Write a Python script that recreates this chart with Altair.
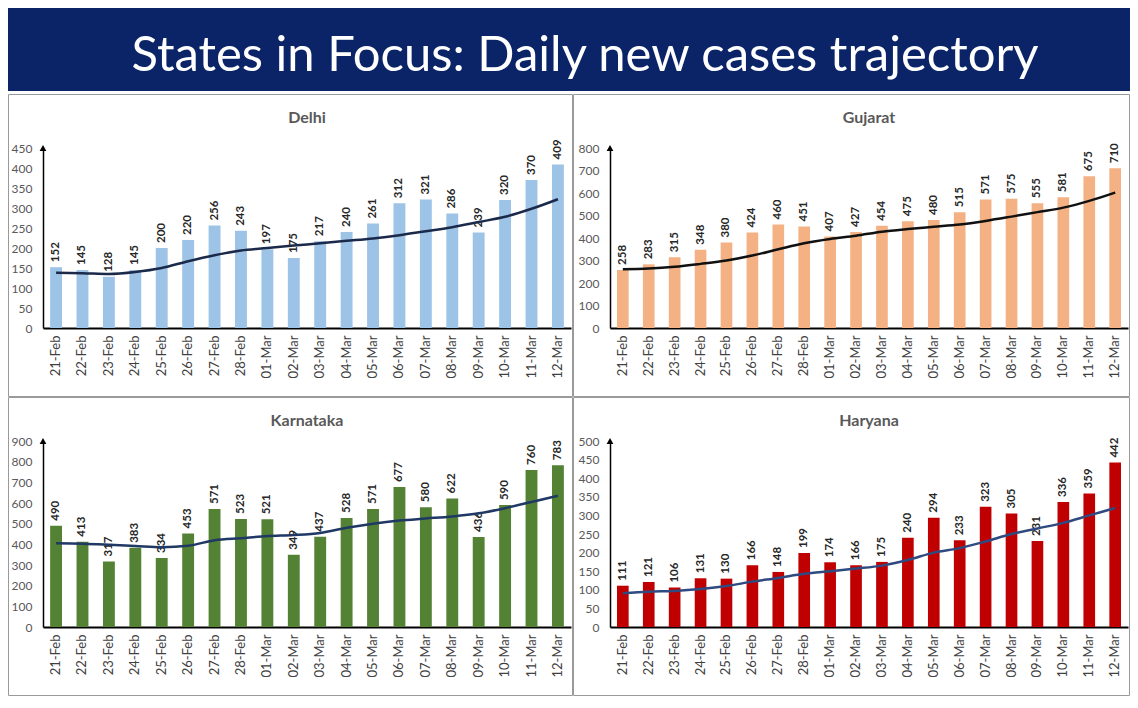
import altair as alt
import pandas as pd

# ---------------- data ----------------
dates = ["21-Feb", "22-Feb", "23-Feb", "24-Feb", "25-Feb", "26-Feb", "27-Feb", "28-Feb",
         "01-Mar", "02-Mar", "03-Mar", "04-Mar", "05-Mar", "06-Mar", "07-Mar", "08-Mar",
         "09-Mar", "10-Mar", "11-Mar", "12-Mar"]

delhi = [152, 145, 128, 145, 200, 220, 256, 243, 197, 175, 217, 240, 261, 312, 321, 286, 239, 320, 370, 409]
delhi_trend = [138, 137, 135, 140, 150, 167, 182, 194, 200, 206, 212, 218, 224, 232, 242, 252, 265, 278, 298, 322]

gujarat = [258, 283, 315, 348, 380, 424, 460, 451, 407, 427, 454, 475, 480, 515, 571, 575, 555, 581, 675, 710]
gujarat_trend = [261, 264, 272, 285, 300, 322, 350, 377, 396, 410, 428, 440, 450, 460, 476, 495, 515, 535, 565, 602]

karnataka = [490, 413, 317, 383, 334, 453, 571, 523, 521, 349, 437, 528, 571, 677, 580, 622, 436, 590, 760, 783]
karnataka_trend = [405, 403, 398, 392, 386, 393, 420, 430, 440, 445, 455, 480, 500, 515, 525, 535, 550, 575, 605, 635]

haryana = [111, 121, 106, 131, 130, 166, 148, 199, 174, 166, 175, 240, 294, 233, 323, 305, 231, 336, 359, 442]
haryana_trend = [91, 95, 97, 102, 110, 122, 132, 143, 150, 157, 165, 180, 200, 212, 230, 250, 265, 280, 300, 320]

main_title = "States in Focus: Daily new cases trajectory"
FONT = "Lato"


def panel(name, values, trend, color, line_color, ymax, step,
          width, height, left_pad, top_pad, bottom_pad=69, right_pad=2):
    df = pd.DataFrame({"date": dates, "cases": values, "trend": trend})

    xenc = alt.X("date:N", sort=dates,
                 scale=alt.Scale(paddingInner=0.55, paddingOuter=0.27),
                 axis=alt.Axis(title=None, labelAngle=-90, ticks=False,
                               domainColor="black", domainWidth=2,
                               labelFont=FONT, labelFontSize=13,
                               labelColor="#404040", labelPadding=7))

    def yenc(field):
        return alt.Y(field, scale=alt.Scale(domain=[0, ymax], nice=False),
                     axis=alt.Axis(title=None, values=list(range(0, ymax + 1, step)),
                                   ticks=False, grid=False, domainColor="black",
                                   domainWidth=1.5, labelFont=FONT, labelFontSize=12,
                                   labelColor="#595959", labelPadding=11))

    base = alt.Chart(df)
    bars = base.mark_bar(color=color).encode(x=xenc, y=yenc("cases:Q"))
    labels = base.mark_text(angle=270, align="left", baseline="middle", dx=5,
                            font=FONT, fontWeight="bold", fontSize=11.5,
                            color="#262626").encode(x=xenc, y=yenc("cases:Q"),
                                                     text="cases:Q")
    line = base.mark_line(color=line_color, strokeWidth=2.5,
                          interpolate="monotone").encode(x=xenc, y=yenc("trend:Q"))

    top_df = pd.DataFrame({"top": [ymax]})
    arrow = alt.Chart(top_df).mark_point(shape="triangle-up", filled=True, size=45,
                                         color="black", opacity=1).encode(
        x=alt.value(0), y=yenc("top:Q"))

    name_df = pd.DataFrame({"name": [name]})
    ttl = alt.Chart(name_df).mark_text(font=FONT, fontWeight="bold", fontSize=16,
                                       color="#595959", baseline="middle").encode(
        x=alt.value(width / 2), y=alt.value(-top_pad + 24), text="name:N")
    border = alt.Chart(name_df).mark_rect(fillOpacity=0, stroke="#9a9a9a",
                                          strokeWidth=1).encode(
        x=alt.value(-left_pad + 0.5), x2=alt.value(width + right_pad - 0.5),
        y=alt.value(-top_pad + 0.5), y2=alt.value(height + bottom_pad - 0.5))

    return alt.layer(border, bars, labels, line, arrow, ttl).properties(
        width=width, height=height)


LW, RW = 528, 518
LP, RP = 35, 37
H1, H2 = 180, 186
T1, T2 = 54, 44

delhi_p = panel("Delhi", delhi, delhi_trend, "#9DC3E6", "#1B2A4A", 450, 50, LW, H1, LP, T1)
guj_p = panel("Gujarat", gujarat, gujarat_trend, "#F4B183", "#111111", 800, 100, RW, H1, RP, T1)
kar_p = panel("Karnataka", karnataka, karnataka_trend, "#548235", "#1F3864", 900, 100, LW, H2, LP, T2)
har_p = panel("Haryana", haryana, haryana_trend, "#C00000", "#2F4A80", 500, 50, RW, H2, RP, T2)

TOTAL_W = LP + LW + 2 + RP + RW + 2
banner_df = pd.DataFrame({"t": [main_title]})
banner_bg = alt.Chart(banner_df).mark_rect(color="#0B2467").encode(
    x=alt.value(-LP), x2=alt.value(TOTAL_W - LP), y=alt.value(0), y2=alt.value(83))
banner_txt = alt.Chart(banner_df).mark_text(font=FONT, fontSize=49, color="white",
                                            baseline="alphabetic").encode(
    x=alt.value(542), y=alt.value(63), text="t:N")
banner = alt.layer(banner_bg, banner_txt).properties(width=TOTAL_W - LP - 20, height=86)

row1 = alt.hconcat(delhi_p, guj_p, spacing=0)
row2 = alt.hconcat(kar_p, har_p, spacing=0)

chart = alt.vconcat(banner, row1, row2, spacing=0).properties(
    padding=0, background="white"
).configure_view(stroke=None).configure_concat(spacing=0)

chart.save("out.html", embed_options={"renderer": "svg", "actions": False})
